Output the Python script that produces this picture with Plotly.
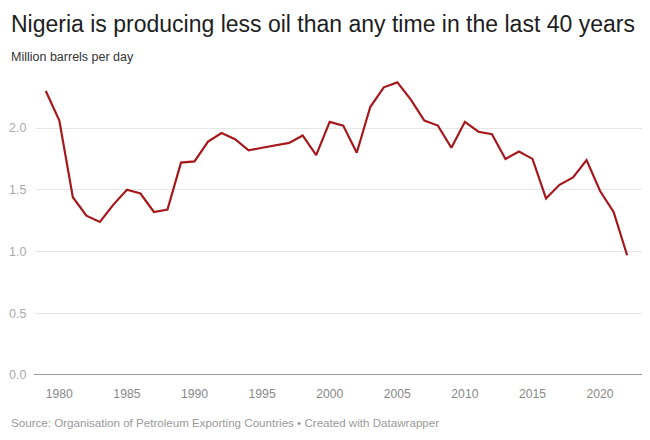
import plotly.graph_objects as go

years = list(range(1979, 2023))
production = [2.30, 2.06, 1.44, 1.29, 1.24, 1.38, 1.50, 1.47, 1.32, 1.34,
              1.72, 1.73, 1.89, 1.96, 1.91, 1.82, 1.84, 1.86, 1.88, 1.94,
              1.78, 2.05, 2.02, 1.80, 2.17, 2.33, 2.37, 2.23, 2.06, 2.02,
              1.84, 2.05, 1.97, 1.95, 1.75, 1.81, 1.75, 1.43, 1.54, 1.60,
              1.74, 1.49, 1.32, 0.97]
x_ticks = [1980, 1985, 1990, 1995, 2000, 2005, 2010, 2015, 2020]
y_ticks = [0.0, 0.5, 1.0, 1.5, 2.0]

title = "Nigeria is producing less oil than any time in the last 40 years"
subtitle = "Million barrels per day"
source = "Source: Organisation of Petroleum Exporting Countries • Created with Datawrapper"

FONT = "Liberation Sans"

# the page body has an 8px default margin; size the figure to fill the rest
fig = go.Figure()
fig.add_trace(go.Scatter(x=years, y=production, mode="lines",
                         line=dict(color="#a5191c", width=2.2),
                         hoverinfo="skip"))

fig.update_layout(
    width=642, height=432,
    margin=dict(l=27, r=8, t=72, b=65, autoexpand=False),
    paper_bgcolor="white", plot_bgcolor="white",
    showlegend=False,
    font=dict(family=FONT, color="#333"),
    xaxis=dict(range=[1978.2, 2023.1], tickvals=x_ticks,
               ticktext=[str(v) for v in x_ticks], automargin=False,
               showgrid=False, zeroline=False, showline=False,
               ticks="outside", ticklen=7, tickcolor="rgba(0,0,0,0)",
               tickfont=dict(family=FONT, size=12.2, color="#888")),
    yaxis=dict(range=[0, 2.389], tickvals=y_ticks,
               ticktext=["0.0", "0.5", "1.0", "1.5", "2.0"], automargin=False,
               showgrid=True, gridcolor="#e6e6e6", gridwidth=1,
               zeroline=False, showline=False,
               ticks="outside", ticklen=5, tickcolor="rgba(0,0,0,0)",
               tickfont=dict(family=FONT, size=12.5, color="#aaa")),
)

fig.add_shape(type="line", xref="paper", yref="y", x0=-0.002, x1=1.0, y0=0, y1=0,
              line=dict(color="#999", width=2))

fig.add_annotation(text=title, xref="paper", yref="paper", x=0, y=1,
                   xanchor="left", yanchor="top", xshift=-26, yshift=71,
                   showarrow=False, align="left",
                   font=dict(family=FONT, size=23, color="#1d1d1d"))
fig.add_annotation(text=subtitle, xref="paper", yref="paper", x=0, y=1,
                   xanchor="left", yanchor="top", xshift=-26, yshift=32,
                   showarrow=False, align="left",
                   font=dict(family=FONT, size=12.5, color="#333"))
fig.add_annotation(text=source, xref="paper", yref="paper", x=0, y=0,
                   xanchor="left", yanchor="top", xshift=-26, yshift=-39,
                   showarrow=False, align="left",
                   font=dict(family=FONT, size=11.6, color="#999"))

fig.write_html("out.html")
